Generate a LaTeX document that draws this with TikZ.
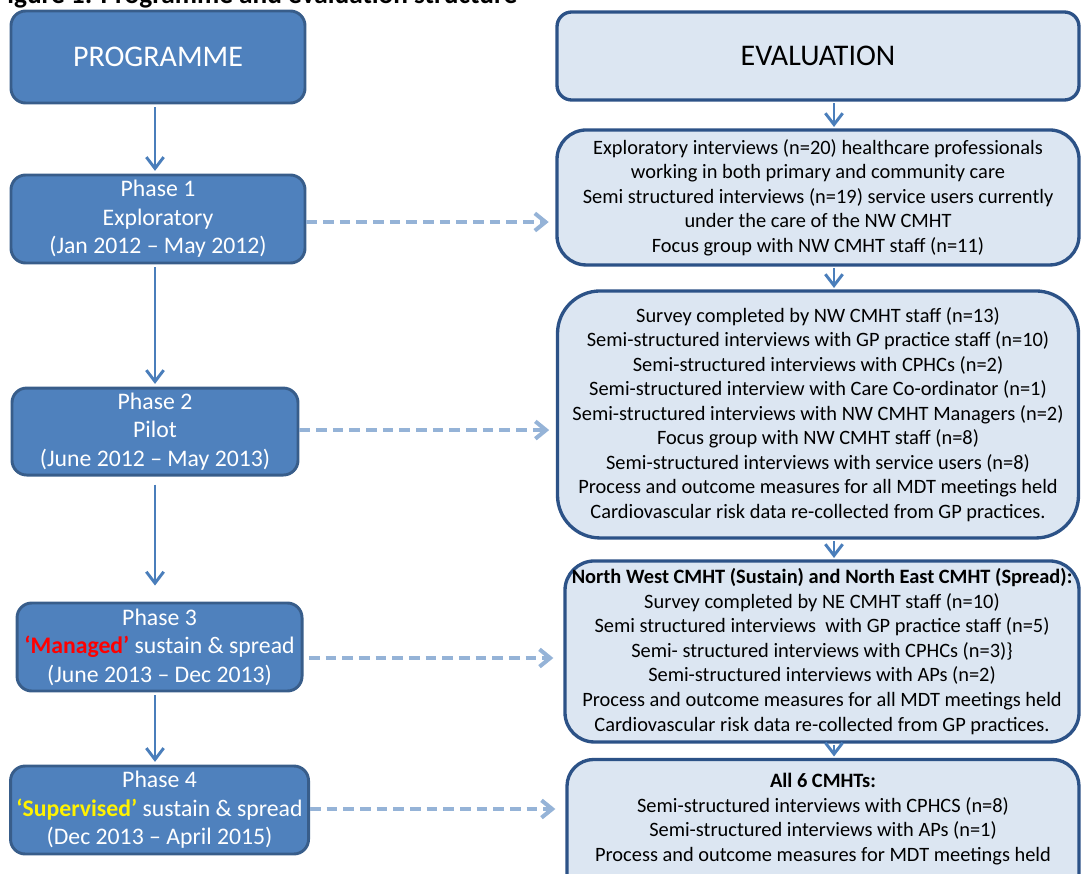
\documentclass[tikz,border=0pt]{standalone}
\usepackage{fontspec}
\setmainfont{Carlito}
\usetikzlibrary{arrows.meta}
\definecolor{phasefill}{HTML}{4F81BD}
\definecolor{phaseline}{HTML}{385D8A}
\definecolor{evalfill}{HTML}{DCE6F2}
\definecolor{evalline}{HTML}{2C5287}
\definecolor{downblue}{HTML}{4A7EBB}
\definecolor{linkblue}{HTML}{95B3D7}
\tikzstyle{phase} = [rectangle, rounded corners=11pt, minimum width=220.5pt, minimum height=66pt, inner sep=0pt, align=center, text=white, draw=phaseline, fill=phasefill, line width=2.2pt, font=\fontsize{17.8}{21.4}\selectfont]
\tikzstyle{evalbox} = [rectangle, rounded corners=22pt, minimum width=391.5pt, inner sep=0pt, align=center, text=black, draw=evalline, fill=evalfill, line width=2.5pt, font=\fontsize{15.3}{18.4}\selectfont]
\tikzstyle{head} = [font=\fontsize{22.5}{27}\selectfont]
\tikzstyle{down} = [line width=2.2pt, draw=downblue, -{Straight Barb[length=8.5pt,width=13pt]}, shorten <=2pt, shorten >=2pt]
\tikzstyle{link} = [line width=3pt, draw=linkblue, dash pattern=on 8pt off 4.5pt, -{Straight Barb[length=8pt,width=13pt]}, shorten >=5pt]

\begin{document}
\begin{tikzpicture}[x=0.75pt, y=-0.75pt]
	\useasboundingbox (0,0) rectangle (1081,874);
	\clip (0,0) rectangle (1081,874);
	\node (title) [anchor=base east, font=\fontsize{20.5}{24}\selectfont\bfseries] at (522,4) {Figure 1: Programme and evaluation structure};
	% programme column
	\node (prog) [phase, head, minimum height=69pt] at (158,57) {PROGRAMME};
	\node (ph1) [phase, node distance=121.5pt, below of=prog] {Phase 1\\Exploratory\\(Jan 2012 – May 2012)};
	\node (ph2) [phase, node distance=159.4pt, below of=ph1, xshift=-2.25pt, minimum width=214.5pt, minimum height=65.25pt] {Phase 2\\Pilot\\(June 2012 – May 2013)};
	\node (ph3) [phase, node distance=161.6pt, below of=ph2, xshift=3.4pt, minimum width=213.75pt] {Phase 3\\\textcolor{red}{\bfseries ‘Managed’} sustain \& spread\\(June 2013 – Dec 2013)};
	\node (ph4) [phase, node distance=122.25pt, below of=ph3, minimum width=223.5pt] {Phase 4\\\textcolor{yellow}{\bfseries ‘Supervised’} sustain \& spread\\(Dec 2013 – April 2015)};
	% evaluation column
	\node (eval) [evalbox, head, rounded corners=11pt, minimum height=66pt, node distance=495pt, right of=prog, yshift=0.75pt] {EVALUATION};
	\node (ev1) [evalbox, minimum height=101.25pt, node distance=106.1pt, below of=eval] {Exploratory interviews (n=20) healthcare professionals\\working in both primary and community care\\Semi structured interviews (n=19) service users currently\\under the care of the NW CMHT\\Focus group with NW CMHT staff (n=11)};
	\node (ev2) [evalbox, rounded corners=32pt, minimum width=390.75pt, minimum height=185.25pt, node distance=162.75pt, below of=ev1] {Survey completed by NW CMHT staff (n=13)\\Semi-structured interviews with GP practice staff (n=10)\\Semi-structured interviews with CPHCs (n=2)\\Semi-structured interview with Care Co-ordinator (n=1)\\Semi-structured interviews with NW CMHT Managers (n=2)\\Focus group with NW CMHT staff (n=8)\\Semi-structured interviews with service users (n=8)\\Process and outcome measures for all MDT meetings held\\Cardiovascular risk data re-collected from GP practices.};
	\node (ev3) [evalbox, minimum width=385.5pt, minimum height=135.75pt, node distance=177.75pt, below of=ev2, xshift=3pt] {\textbf{North West CMHT (Sustain) and North East CMHT (Spread):}\\Survey completed by NE CMHT staff (n=10)\\Semi structured interviews~ with GP practice staff (n=5)\\Semi- structured interviews with CPHCs (n=3)\}\\Semi-structured interviews with APs (n=2)\\Process and outcome measures for all MDT meetings held\\Cardiovascular risk data re-collected from GP practices.};
	\node (ev4) [evalbox, rounded corners=20pt, minimum width=384pt, minimum height=129pt, node distance=145.5pt, below of=ev3, xshift=0.75pt] {\textbf{All 6 CMHTs:}\\Semi-structured interviews with CPHCS (n=8)\\Semi-structured interviews with APs (n=1)\\Process and outcome measures for MDT meetings held\\\strut\\\strut};
	% connectors
	\coordinate (lcol) at (155,0);
	\coordinate (rcol) at (834,0);
	\draw [down] (lcol |- prog.south) -- (lcol |- ph1.north);
	\draw [down] (lcol |- ph1.south) -- (lcol |- ph2.north);
	\draw [down, shorten <=6pt, shorten >=12pt] (lcol |- ph2.south) -- (lcol |- ph3.north);
	\draw [down] (lcol |- ph3.south) -- (lcol |- ph4.north);
	\draw [down, shorten <=1pt, shorten >=1pt] (rcol |- eval.south) -- (rcol |- ev1.north);
	\draw [down, shorten <=1pt, shorten >=1pt] (rcol |- ev1.south) -- (rcol |- ev2.north);
	\draw [down, shorten <=1pt, shorten >=1pt] (rcol |- ev2.south) -- (rcol |- ev3.north);
	\draw [down, shorten <=1pt, shorten >=1pt] (rcol |- ev3.south) -- (rcol |- ev4.north);
	\draw [link] ([yshift=-2.25pt]ph1.east) -- ([yshift=-2.25pt]ph1.east -| ev1.west);
	\draw [link] ([yshift=1.1pt]ph2.east) -- ([yshift=1.1pt]ph2.east -| ev2.west);
	\draw [link, shorten <=4pt, shorten >=7.5pt] ([yshift=-8.25pt]ph3.east) -- ([yshift=-8.25pt]ph3.east -| ev3.west);
	\draw [link, shorten >=7.5pt] ([yshift=0.75pt]ph4.east) -- ([yshift=0.75pt]ph4.east -| ev4.west);
\end{tikzpicture}
\end{document}
